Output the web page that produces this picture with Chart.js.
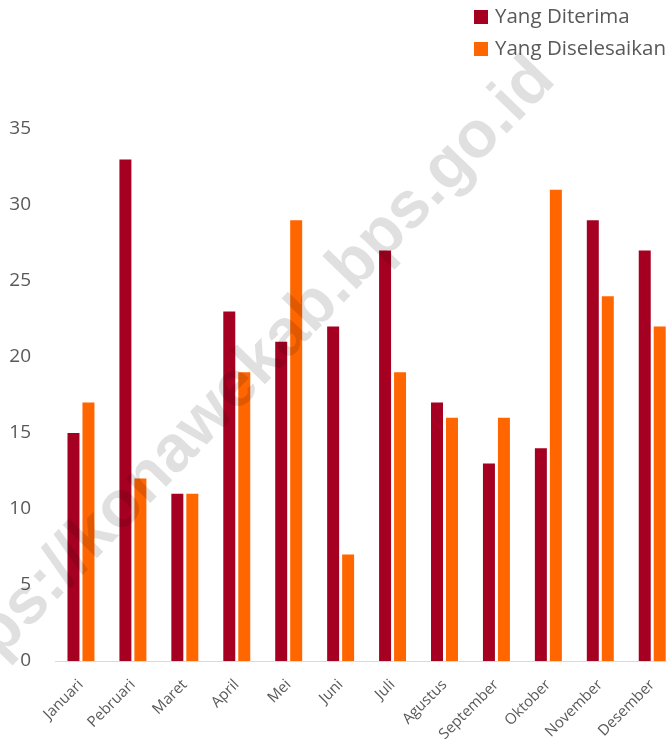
<!DOCTYPE html>
<html>
<head>
<meta charset="utf-8">
<script src="https://cdn.jsdelivr.net/npm/chart.js@4"></script>
<style>
  body { margin: 0; background: #fff; overflow: hidden; }
  #wrap { position: relative; width: 680px; height: 744px; }
  #legend { position: absolute; left: 474px; top: 0; font-family: "Open Sans", sans-serif; font-size: 20.5px; color: #595959; }
  #legend div { height: 32px; line-height: 30px; white-space: nowrap; }
  #legend span.box { display: inline-block; width: 14px; height: 14px; margin-right: 7px; vertical-align: -1px; }
</style>
</head>
<body>
<div id="wrap">
  <canvas id="chart"></canvas>
  <div id="legend"></div>
</div>
<script>
// data
const months = ['Januari', 'Pebruari', 'Maret', 'April', 'Mei', 'Juni', 'Juli', 'Agustus', 'September', 'Oktober', 'November', 'Desember'];
const diterima = [15, 33, 11, 23, 21, 22, 27, 17, 13, 14, 29, 27];
const diselesaikan = [17, 12, 11, 19, 29, 7, 19, 16, 16, 31, 24, 22];
const yTicks = [0, 5, 10, 15, 20, 25, 30, 35];

const seriesNames = ['Yang Diterima', 'Yang Diselesaikan'];
const colors = ['#A50021', '#FF6600'];

// html legend, stacked like the original
const legend = document.getElementById('legend');
seriesNames.forEach((name, i) => {
  const row = document.createElement('div');
  row.innerHTML = `<span class="box" style="background:${colors[i]}"></span>${name}`;
  legend.appendChild(row);
});

// faint watermark drawn over the bars
const watermark = {
  id: 'watermark',
  afterDraw(chart) {
    const ctx = chart.ctx;
    ctx.save();
    ctx.translate(236, 388);
    ctx.rotate(-46 * Math.PI / 180);
    ctx.font = 'bold 66px "Liberation Sans", Arial, sans-serif';
    ctx.fillStyle = 'rgba(0, 0, 0, 0.12)';
    ctx.textAlign = 'center';
    ctx.textBaseline = 'middle';
    ctx.fillText('https://konawekab.bps.go.id', 0, 0);
    ctx.restore();
  }
};

const config = {
  type: 'bar',
  data: {
    labels: months,
    datasets: [{
      label: seriesNames[0],
      data: diterima,
      backgroundColor: colors[0],
      categoryPercentage: 0.577,
      barPercentage: 0.8
    }, {
      label: seriesNames[1],
      data: diselesaikan,
      backgroundColor: colors[1],
      categoryPercentage: 0.577,
      barPercentage: 0.8
    }]
  },
  options: {
    responsive: true,
    maintainAspectRatio: false,
    animation: false,
    layout: { padding: { top: 129, right: 1, left: 0, bottom: 0 } },
    plugins: {
      legend: { display: false },
      tooltip: { enabled: false }
    },
    scales: {
      x: {
        grid: { display: false, drawTicks: false },
        border: { display: true, color: '#d9d9d9', width: 1 },
        ticks: {
          color: '#595959',
          font: { family: '"Open Sans", sans-serif', size: 15 },
          minRotation: 45,
          maxRotation: 45,
          padding: 15
        },
        afterFit: (scale) => { scale.height = 83; }
      },
      y: {
        min: 0,
        max: 35,
        grid: { display: false, drawTicks: false },
        border: { display: false },
        afterBuildTicks: (scale) => { scale.ticks = yTicks.map(v => ({ value: v })); },
        ticks: {
          color: '#595959',
          font: { family: '"Open Sans", sans-serif', size: 19 },
          padding: 24
        },
        afterFit: (scale) => { scale.width = 55; }
      }
    }
  },
  plugins: [watermark]
};

new Chart(document.getElementById('chart'), config);
</script>
</body>
</html>
